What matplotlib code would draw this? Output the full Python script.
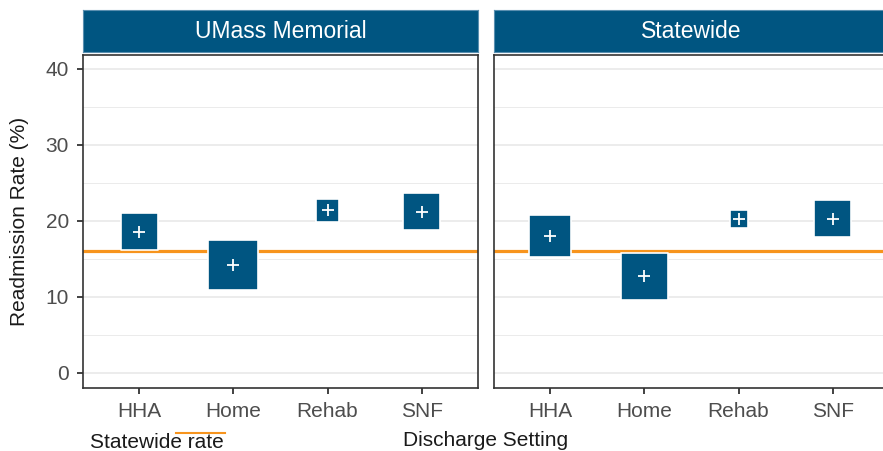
import matplotlib.pyplot as plt
from matplotlib.lines import Line2D

plt.rcParams['font.family'] = ['Liberation Sans', 'DejaVu Sans']

# data
settings = ['HHA', 'Home', 'Rehab', 'SNF']
panels = ['UMass Memorial', 'Statewide']
umass_rate = [18.6, 14.2, 21.4, 21.2]
state_rate = [18.0, 12.7, 20.2, 20.3]
umass_size = [37, 50, 23, 37]
state_size = [42, 47, 18, 37]
statewide_rate = 16.1

blue = '#005581'
orange = '#F7941D'
W, H = 883, 451

fig = plt.figure(figsize=(W / 100, H / 100), dpi=100)


def px_box(x0, y0, x1, y1):
    # pixel box (top-left origin) -> figure fraction rect
    return [x0 / W, 1 - y1 / H, (x1 - x0) / W, (y1 - y0) / H]


def draw_panel(x0, title, rates, sizes, show_y):
    ax = fig.add_axes(px_box(x0, 55, x0 + 395, 388))
    xs = list(range(1, len(settings) + 1))
    ax.set_xlim(0.4, 4.6)
    ax.set_ylim(-2, 41.84)
    ax.set_yticks([0, 10, 20, 30, 40])
    ax.set_yticks([5, 15, 25, 35], minor=True)
    ax.grid(True, which='major', axis='y', color='#EBEBEB', linewidth=1.3, zorder=0)
    ax.grid(True, which='minor', axis='y', color='#EBEBEB', linewidth=0.7, zorder=0)
    ax.set_axisbelow(True)
    ax.axhline(statewide_rate, color=orange, linewidth=2.3, zorder=2)
    ax.scatter(xs, rates, s=[(v * 0.72) ** 2 for v in sizes], marker='s',
               color=blue, edgecolors='white', linewidths=1.2, zorder=3)
    ax.scatter(xs, rates, s=75, marker='+', color='white', linewidths=1.3, zorder=4)
    ax.set_xticks(xs)
    ax.set_xticklabels(settings)
    for sp in ax.spines.values():
        sp.set_color('#333333')
        sp.set_linewidth(1.2)
    ax.tick_params(axis='both', which='major', length=4, width=1.3, color='#333333',
                   labelsize=15, labelcolor='#4D4D4D')
    ax.tick_params(axis='x', which='major', pad=6)
    ax.tick_params(axis='y', which='major', pad=6)
    ax.tick_params(axis='y', which='minor', length=0)
    if not show_y:
        ax.tick_params(axis='y', which='major', left=False, labelleft=False)
    # facet strip
    sax = fig.add_axes(px_box(x0, 10, x0 + 395, 52))
    sax.set_facecolor(blue)
    sax.set_xticks([])
    sax.set_yticks([])
    for sp in sax.spines.values():
        sp.set_color('#5A8FB0')
        sp.set_linewidth(0.8)
    sax.text(0.5, 0.48, title, transform=sax.transAxes, ha='center', va='center',
             color='white', fontsize=16.5)
    return ax


ax1 = draw_panel(83, panels[0], umass_rate, umass_size, True)
ax2 = draw_panel(494, panels[1], state_rate, state_size, False)

ax1.set_ylabel('Readmission Rate (%)', fontsize=15, color='#1A1A1A', labelpad=12)

fig.text(485.5 / W, 1 - 440 / H, 'Discharge Setting', ha='center', va='center',
         fontsize=15, color='#1A1A1A')

# legend
fig.text(90 / W, 1 - 443 / H, 'Statewide rate', ha='left', va='center',
         fontsize=15, color='#1A1A1A')
fig.add_artist(Line2D([176 / W, 225 / W], [1 - 433 / H, 1 - 433 / H],
                      transform=fig.transFigure, color=orange, linewidth=1.5))

fig.savefig('out.png', dpi=100)
